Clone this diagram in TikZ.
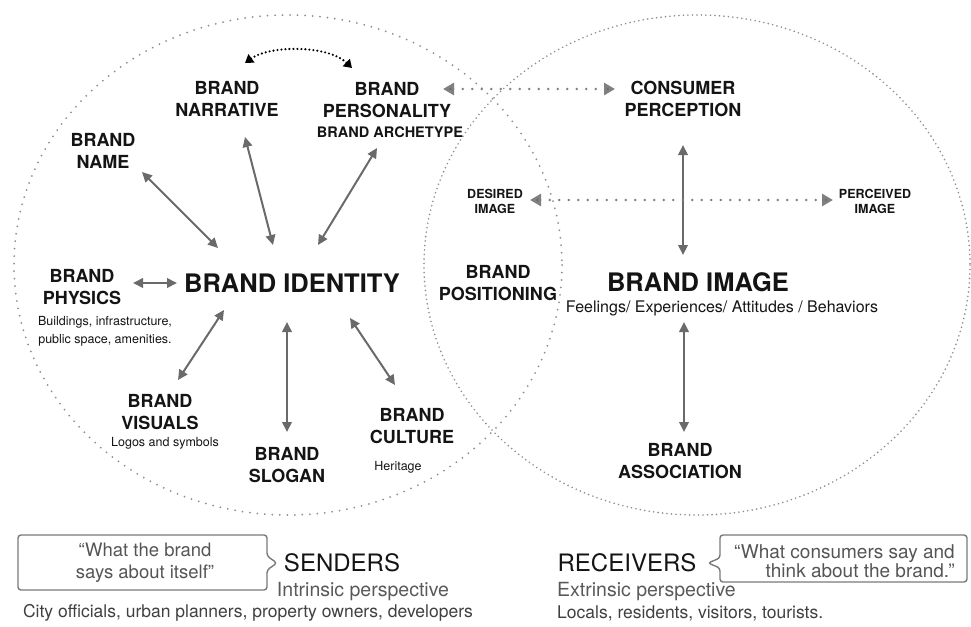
\documentclass[tikz,border=0pt]{standalone}
\usepackage{fontspec}
\setmainfont{TeX Gyre Heros}
\usetikzlibrary{arrows.meta}
\definecolor{linkgray}{HTML}{6A6A6A}
\definecolor{dotgray}{HTML}{8E8E8E}
\definecolor{notegray}{HTML}{555555}
\begin{document}
\begin{tikzpicture}[x=1pt,y=-1pt,line width=0.4pt,
  every node/.style={inner sep=0pt,align=center,text=black!92},
  lbl/.style={font=\fontsize{18}{22}\selectfont\bfseries},
  title/.style={font=\fontsize{25.5}{30}\selectfont\bfseries},
  sublbl/.style={font=\fontsize{12.5}{15}\selectfont\bfseries},
  note/.style={font=\fontsize{12.5}{18}\selectfont},
  link/.style={draw=linkgray,line width=2pt,{Triangle[length=10pt,width=9.5pt]}-{Triangle[length=10pt,width=9.5pt]}},
  dotlink/.style={draw=linkgray!85,line width=2.8pt,line cap=round,dash pattern=on 0pt off 9.5pt,
    {Triangle[length=11pt,width=12pt,fill=linkgray]}-{Triangle[length=11pt,width=12pt,fill=linkgray]}}]
\useasboundingbox (0,0) rectangle (971,626);
% senders and receivers
\draw[dotgray,line width=2pt,line cap=round,dash pattern=on 0pt off 7.5pt] (288,265) ellipse[x radius=274,y radius=250];
\draw[dotgray,line width=1.8pt,line cap=round,dash pattern=on 0pt off 4.5pt] (697,265) ellipse[x radius=273,y radius=250];
% arrow ends
\coordinate (name-a) at (142,172);
\coordinate (name-b) at (218,248);
\coordinate (narr-a) at (245,137);
\coordinate (narr-b) at (273,245);
\coordinate (pers-a) at (377,148);
\coordinate (pers-b) at (318,245);
\coordinate (phys-a) at (133,283);
\coordinate (phys-b) at (177,283);
\coordinate (vis-a) at (224,310);
\coordinate (vis-b) at (178,380);
\coordinate (slog-a) at (287,322);
\coordinate (slog-b) at (287,432);
\coordinate (cult-a) at (350,318);
\coordinate (cult-b) at (395,385);
\coordinate (cons-a) at (683,145);
\coordinate (cons-b) at (683,255);
\coordinate (assoc-a) at (684,322);
\coordinate (assoc-b) at (684,432);
\coordinate (story-a) at (245,63);
\coordinate (story-b) at (352,68);
\coordinate (percept-a) at (443,89);
\coordinate (percept-b) at (615,89);
\coordinate (desired-a) at (530,200);
\coordinate (desired-b) at (833,200);
\draw[link] (name-a) -- (name-b);
\draw[link] (narr-a) -- (narr-b);
\draw[link] (pers-a) -- (pers-b);
\draw[link] (phys-a) -- (phys-b);
\draw[link] (vis-a) -- (vis-b);
\draw[link] (slog-a) -- (slog-b);
\draw[link] (cult-a) -- (cult-b);
\draw[link] (cons-a) -- (cons-b);
\draw[link] (assoc-a) -- (assoc-b);
\draw[line width=2.4pt,line cap=round,dash pattern=on 0pt off 4pt,
  {Triangle[length=8pt,width=10pt]}-{Triangle[length=8pt,width=10pt]}]
  (story-a) .. controls (270,45) and (328,45) .. (story-b);
\draw[dotlink] (percept-a) -- (percept-b);
\draw[dotlink] (desired-a) -- (desired-b);
% brand identity side
\node[title] (ident) at (292,283) {BRAND IDENTITY};
\node[lbl] (narr) at (227,99) {BRAND\\NARRATIVE};
\node[lbl] (pers) at (387,100) {BRAND\\PERSONALITY};
\node[font=\fontsize{14.5}{17}\selectfont\bfseries] (arch) at (390,132) {BRAND ARCHETYPE};
\node[lbl] (name) at (103,151) {BRAND\\NAME};
\node[lbl] (phys) at (82,287) {BRAND\\PHYSICS};
\node[note] (phys-note) at (105,331) {Buildings, infrastructure,\\public space, amenities.};
\node[lbl] (vis) at (160,412) {BRAND\\VISUALS};
\node[note] (vis-note) at (165,443) {Logos and symbols};
\node[lbl] (slog) at (287,465) {BRAND\\SLOGAN};
\node[lbl] (cult) at (412,426) {BRAND\\CULTURE};
\node[note] (cult-note) at (398,467) {Heritage};
\node[lbl] (posit) at (498,283) {BRAND\\POSITIONING};
% brand image side
\node[sublbl] (desired) at (495,201) {DESIRED\\IMAGE};
\node[sublbl] (perceived) at (875,201) {PERCEIVED\\IMAGE};
\node[lbl] (cons) at (683,99) {CONSUMER\\PERCEPTION};
\node[title] (image) at (698,282) {BRAND IMAGE};
\node[font=\fontsize{16}{19}\selectfont] (feel) at (722,308) {Feelings/ Experiences/ Attitudes / Behaviors};
\node[lbl] (assoc) at (680,461) {BRAND\\ASSOCIATION};
% senders
\draw[linkgray!90,line width=1.4pt,rounded corners=3pt] (18,535) -- (267,535) -- (267,556) -- (277,563) -- (267,570) -- (267,590) -- (18,590) -- cycle;
\node[font=\fontsize{18.5}{22}\selectfont,text=notegray] (send-quote) at (145,563) {“What the brand\\says about itself”};
\node[font=\fontsize{24}{28}\selectfont] (send) at (342,563) {SENDERS};
\node[font=\fontsize{19.5}{23}\selectfont,text=black!65] (intr) at (363,592) {Intrinsic perspective};
\node[font=\fontsize{17.5}{21}\selectfont,text=black!75] (city) at (248,613) {City officials, urban planners, property owners, developers};
% receivers
\draw[linkgray!90,line width=1.4pt,rounded corners=3pt] (720,535) -- (967,535) -- (967,582) -- (720,582) -- (720,568) -- (708,563) -- (720,558) -- cycle;
\node[font=\fontsize{19}{19}\selectfont,text=notegray,align=right,anchor=east] (recv-quote) at (955,561) {“What consumers say and\\think about the brand.”};
\node[font=\fontsize{24}{28}\selectfont] (recv) at (627,563) {RECEIVERS};
\node[font=\fontsize{19.5}{23}\selectfont,text=black!65,anchor=west] (extr) at (557,592) {Extrinsic perspective};
\node[font=\fontsize{17.5}{21}\selectfont,text=black!75,anchor=west] (locals) at (557,613) {Locals, residents, visitors, tourists.};
\end{tikzpicture}
\end{document}
